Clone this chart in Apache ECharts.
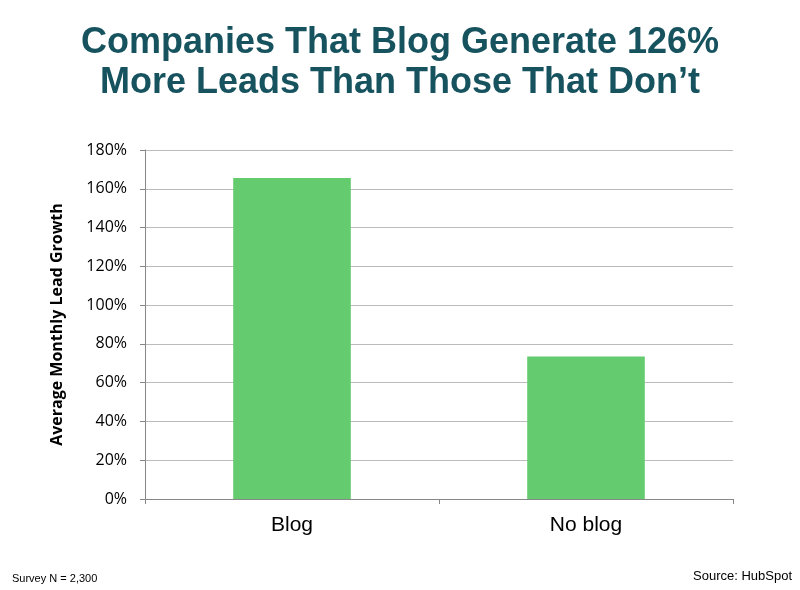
<!DOCTYPE html>
<html><head><meta charset="utf-8">
<script src="https://cdn.jsdelivr.net/npm/echarts@6/dist/echarts.min.js"></script>
<style>html,body{margin:0;padding:0;background:#fff}#c{width:800px;height:590px}</style>
</head><body><div id="c"></div>
<script>
const categories = ["Blog", "No blog"];
const values = [165.5, 73.5];
const yTicks = [0, 20, 40, 60, 80, 100, 120, 140, 160, 180];
const chart = echarts.init(document.getElementById('c'));
chart.setOption({
  animation: false,
  title: {
    text: "Companies That Blog Generate 126%\nMore Leads Than Those That Don’t",
    left: 'center', top: 18,
    textStyle: {color: '#17535f', fontFamily: 'Liberation Sans, Arial', fontWeight: 'bold', fontSize: 36, lineHeight: 40}
  },
  graphic: [
    {type: 'text', left: 12, top: 573, style: {text: 'Survey N = 2,300', fontSize: 11, fontFamily: 'Liberation Sans, Arial', fill: '#000'}},
    {type: 'text', right: 8, top: 570, style: {text: 'Source: HubSpot', fontSize: 13, fontFamily: 'Liberation Sans, Arial', fill: '#000'}}
  ],
  grid: {left: 145, right: 67, top: 150, bottom: 91},
  xAxis: {
    type: 'category', data: categories,
    axisLine: {lineStyle: {color: '#888'}},
    axisTick: {show: true, alignWithLabel: false, lineStyle: {color: '#888'}},
    axisLabel: {fontSize: 21, color: '#000', margin: 16, fontFamily: 'Liberation Sans, Arial'}
  },
  yAxis: {
    type: 'value', min: yTicks[0], max: yTicks[yTicks.length-1], interval: 20,
    name: 'Average Monthly Lead Growth', nameLocation: 'middle', nameGap: 80,
    nameTextStyle: {fontSize: 16, fontWeight: 'bold', color: '#000', fontFamily: 'Open Sans'},
    axisLine: {show: true, lineStyle: {color: '#888'}},
    axisTick: {show: true, inside: false, length: 5, lineStyle: {color: '#888'}},
    axisLabel: {formatter: v => v + '%', fontSize: 16, color: '#000', margin: 18, fontFamily: 'Open Sans'},
    splitLine: {lineStyle: {color: '#bbb'}}
  },
  series: [{type: 'bar', data: values, barWidth: '40%', itemStyle: {color: '#64cc6e'}}]
});
</script></body></html>
